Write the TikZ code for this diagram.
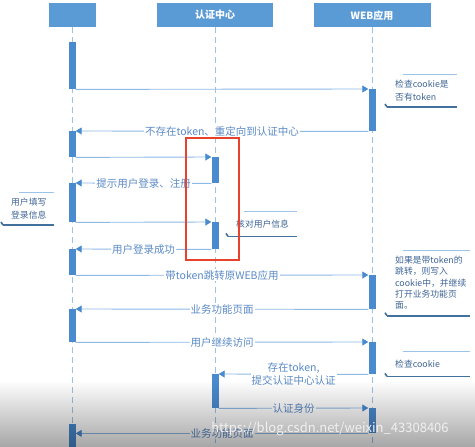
\documentclass[tikz,border=0pt]{standalone}
\usepackage{fontspec}
\setmainfont{Noto Sans CJK SC}
\usetikzlibrary{positioning,arrows.meta,calc,fadings}

\definecolor{hdrblue}{HTML}{5B9BD5}
\definecolor{barblue}{HTML}{4A8BD0}
\definecolor{lineblue}{HTML}{9DC3E6}
\definecolor{msgblue}{HTML}{8FB9E5}
\definecolor{lbltext}{HTML}{5A8AC6}
\definecolor{notetext}{HTML}{3E6496}
\definecolor{notedark}{HTML}{41719C}
\definecolor{hlred}{HTML}{E8412C}

\begin{document}
\begin{tikzpicture}[
  x=1pt,y=-1pt,
  actor/.style={fill=hdrblue,text=white,font=\fontsize{10}{12}\selectfont\bfseries,
    minimum height=24pt,inner sep=0pt,anchor=north},
  life/.style={draw=lineblue,dash pattern=on 6pt off 4pt,line width=0.8pt},
  bar/.style={fill=barblue,minimum width=7pt,inner sep=0pt,anchor=north},
  msg/.style={draw=msgblue,line width=0.9pt,-{Triangle[length=6pt,width=7pt,fill=barblue,color=barblue]}},
  lbl/.style={fill=white,text=lbltext,inner sep=1pt,font=\fontsize{10.5}{13}\selectfont,align=center},
  notetop/.style={draw=lineblue,line width=0.8pt},
  notebot/.style={draw=notedark,line width=1.6pt},
  note/.style={anchor=north west,text=notetext,align=left,
    font=\fontsize{8.8}{12.5}\selectfont,inner xsep=8pt,inner ysep=6pt,
    append after command={
      ([xshift=16pt]\tikzlastnode.north west) edge[notetop] (\tikzlastnode.north east)
      ([xshift=-2pt,yshift=3pt]\tikzlastnode.south west) edge[notebot] (\tikzlastnode.south west)
      (\tikzlastnode.south west) edge[notebot] (\tikzlastnode.south east)}}
]
\useasboundingbox (0,0) rectangle (475,447);
\coordinate (bot) at (0,450);

% participants
\node[actor,minimum width=47pt] (user) at (72,3) {};
\node[actor,minimum width=116pt] (auth) at (215,3) {认证中心};
\node[actor,minimum width=117pt] (web) at (372,3) {WEB应用};

\draw[life] (user.south) -- (user.south |- bot);
\draw[life] (auth.south) -- (auth.south |- bot);
\draw[life] (web.south) -- (web.south |- bot);

% activation bars
\node[bar,minimum height=47pt] (u1) at (72,42) {};
\node[bar,minimum height=26pt] (u2) at (72,131) {};
\node[bar,minimum height=39pt] (u3) at (72,183) {};
\node[bar,minimum height=26pt] (u4) at (72,249) {};
\node[bar,minimum height=33pt] (u5) at (72,309) {};
\node[bar,minimum height=30pt] (u6) at (72,424) {};
\node[bar,minimum height=26pt] (a1) at (215,157) {};
\node[bar,minimum height=27pt] (a2) at (215,222) {};
\node[bar,minimum height=34pt] (a3) at (215,374) {};
\node[bar,minimum height=42pt] (w1) at (372,89) {};
\node[bar,minimum height=34pt] (w2) at (372,275) {};
\node[bar,minimum height=32pt] (w3) at (372,342) {};
\node[bar,minimum height=25pt] (w4) at (372,408) {};

% messages
\draw[msg] (u1.south east) -- (w1.north west);
\draw[msg] (w1.south west) -- node[lbl] {不存在token、重定向到认证中心} (u2.north east);
\draw[msg] (u2.south east) -- (a1.north west);
\draw[msg] (a1.south west) -- node[lbl] {提示用户登录、注册} (u3.north east);
\draw[msg] (u3.south east) -- (a2.north west);
\draw[msg] (a2.south west) -- node[lbl] {用户登录成功} (u4.north east);
\draw[msg] (u4.south east) -- node[lbl] {带token跳转原WEB应用} (w2.north west);
\draw[msg] (w2.south west) -- node[lbl] {业务功能页面} (u5.north east);
\draw[msg] (u5.south east) -- node[lbl] {用户继续访问} (w3.north west);
\draw[msg] (w3.south west) -- node[lbl] {存在token,\\提交认证中心认证} (a3.north east);
\draw[msg] (a3.south east) -- node[lbl] {认证身份} (w4.north west);
\draw[msg] (w4.south west) -- node[lbl] {业务功能页面} (u6.east |- w4.south);

% notes
\node[note,text width=54pt] (chk1) at (387,74) {检查cookie是\\否有token};
\node[note,text width=67pt,font=\fontsize{8.8}{11.3}\selectfont] (chk2) at (387,250)
  {如果是带token的\\跳转，则写入\\cookie中，并继续\\打开业务功能页\\面。};
\node[note,text width=67pt,minimum height=25pt] (chk3) at (387,351) {检查cookie};
\node[note,text width=35pt] (fill) at (3,192) {用户填写\\登录信息};
\node[note,text width=53pt,minimum height=25pt] (verify) at (228,211) {核对用户信息};

% highlight
\node[draw=hlred,line width=1.6pt,minimum width=53pt,minimum height=122pt,
  inner sep=0pt,anchor=north west] (hl) at (185,137) {};

% video overlay
\fill[black,opacity=0.35,path fading=north] (0,380) rectangle (475,447);
\node[text=white!88!gray,font=\fontsize{13}{13}\selectfont] (wm) at (330,429)
  {https://blog.csdn.net/weixin\_43308406};
\end{tikzpicture}
\end{document}
